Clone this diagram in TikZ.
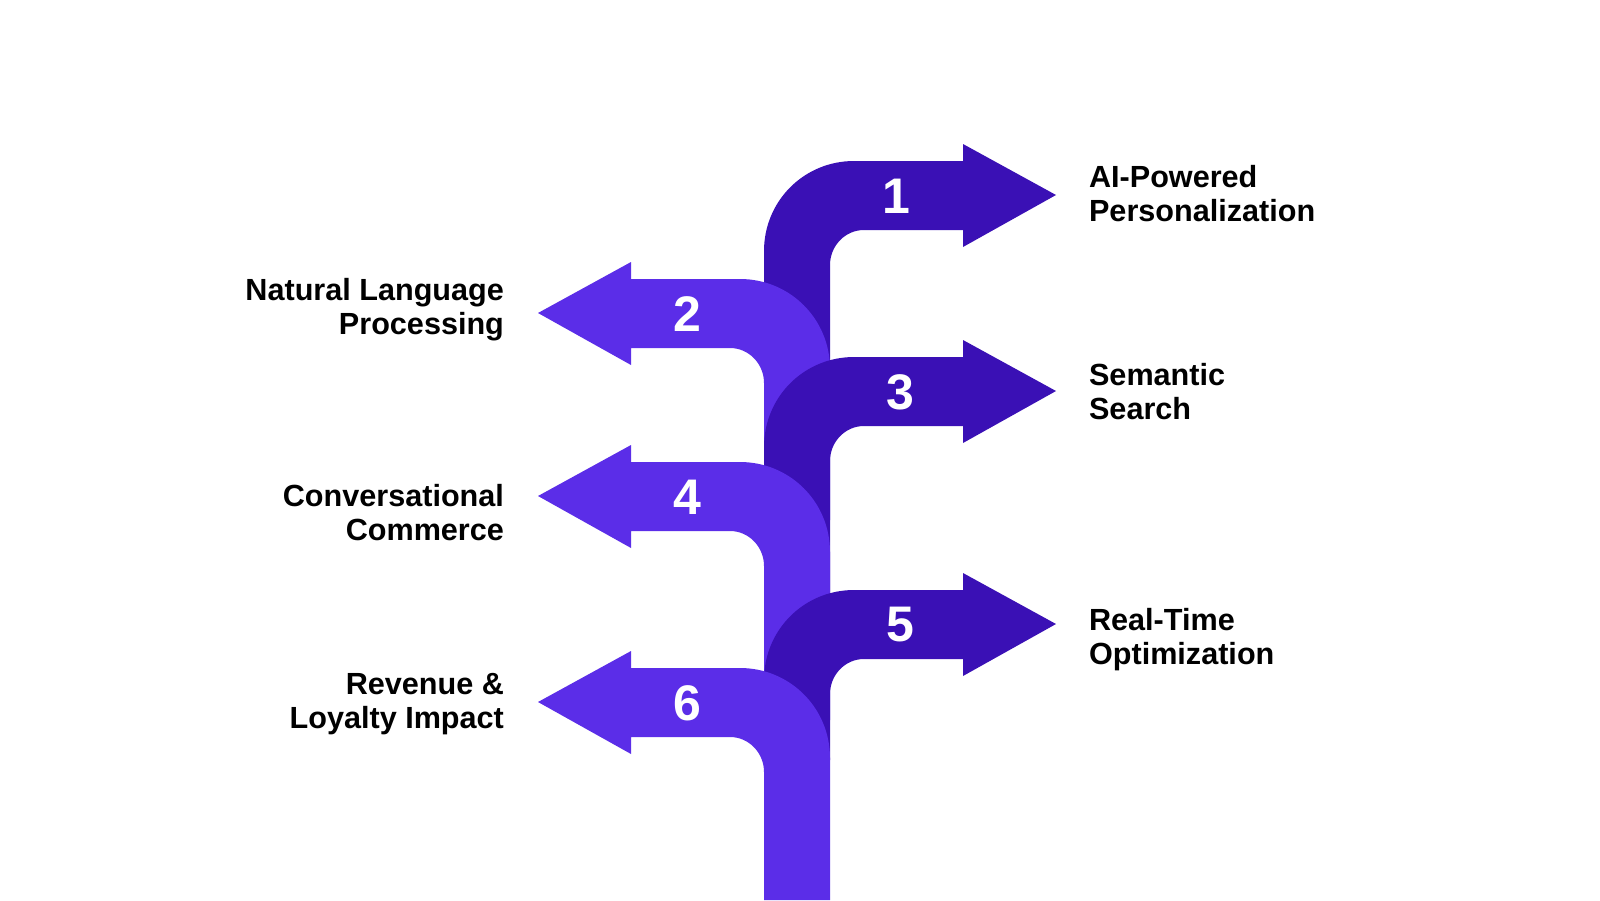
\documentclass[tikz,border=0pt]{standalone}
\usepackage{fontspec}
\setmainfont{Liberation Sans}
\begin{document}
\begin{tikzpicture}[x=0.5pt,y=-0.5pt,
  dark/.style={fill={rgb,255:red,58;green,16;blue,181}},
  light/.style={fill={rgb,255:red,91;green,45;blue,232}},
  num/.style={text=white,font=\bfseries\fontsize{25}{28}\selectfont},
  lbl/.style={font=\bfseries\fontsize{15.3}{17}\selectfont,align=left,anchor=west},
  lblr/.style={font=\bfseries\fontsize{15.3}{17}\selectfont,align=right,anchor=east}]
\useasboundingbox (0,0) rectangle (1600,900);
\newcommand{\rarrow}[3]{%
 \fill[#3] (764,#2) -- (764,#1+90) .. controls (764,#1+40) and (804,#1) .. (854,#1)
  -- (963,#1) -- (963,#1-17) -- (1056,#1+34) -- (963,#1+86) -- (963,#1+69)
  -- (864,#1+69) .. controls (845,#1+69) and (830,#1+85) .. (830,#1+104) -- (830,#2) -- cycle;}
\newcommand{\larrow}[3]{%
 \fill[#3] (830,#2) -- (830,#1+90) .. controls (830,#1+40) and (790,#1) .. (740,#1)
  -- (631,#1) -- (631,#1-17) -- (538,#1+34) -- (631,#1+86) -- (631,#1+69)
  -- (730,#1+69) .. controls (749,#1+69) and (764,#1+85) .. (764,#1+104) -- (764,#2) -- cycle;}
\rarrow{161}{420}{dark}
\larrow{279}{520}{light}
\rarrow{357}{640}{dark}
\larrow{462}{720}{light}
\rarrow{590}{760}{dark}
\larrow{668}{900}{light}
\node[num] (n1) at (896,196) {1};
\node[num] (n2) at (687,314) {2};
\node[num] (n3) at (900,392) {3};
\node[num] (n4) at (687,497) {4};
\node[num] (n5) at (900,625) {5};
\node[num] (n6) at (687,703) {6};
\node[lbl] (t1) at (1082,194) {AI-Powered\\Personalization};
\node[lbl] (t3) at (1082,392) {Semantic\\Search};
\node[lbl] (t5) at (1082,640) {Real-Time\\Optimization};
\node[lblr] (t2) at (511,310) {Natural Language\\Processing};
\node[lblr] (t4) at (511,513) {Conversational\\Commerce};
\node[lblr] (t6) at (511,704) {Revenue \&\\Loyalty Impact};
\end{tikzpicture}
\end{document}
